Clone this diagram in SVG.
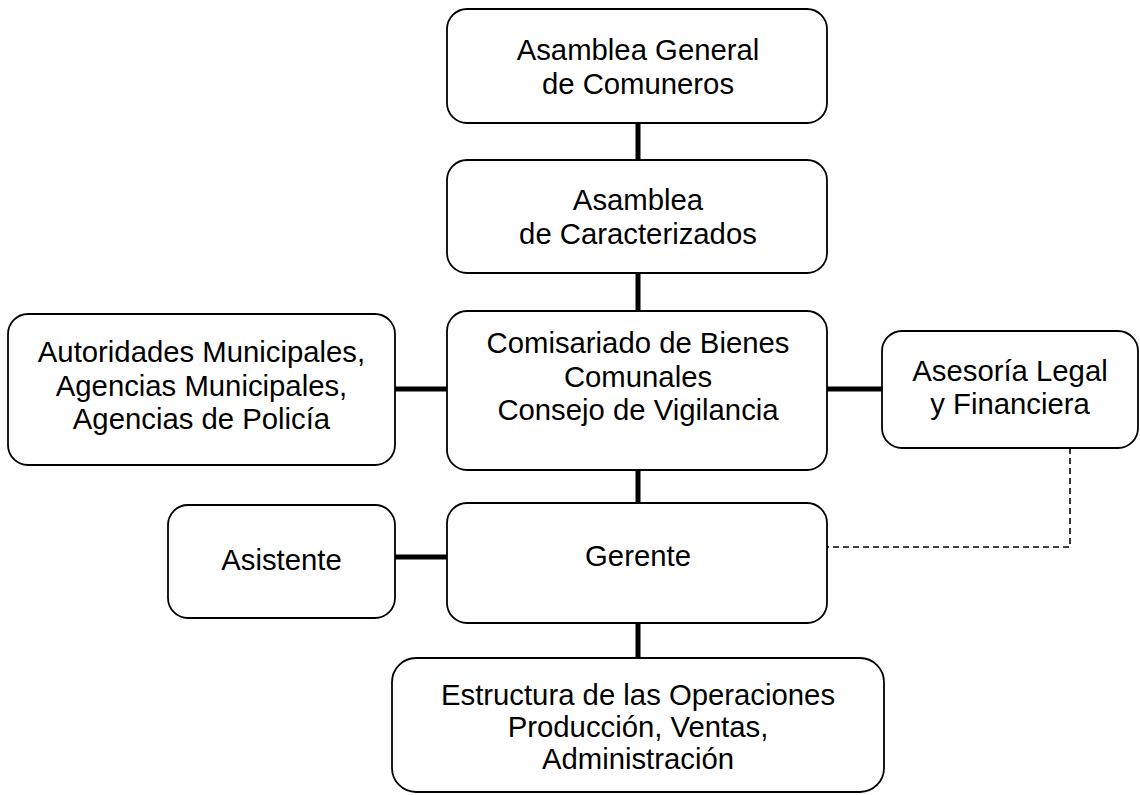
<svg xmlns="http://www.w3.org/2000/svg" width="1140" height="795" viewBox="0 0 1140 795">
  <style>
    .box { fill: #ffffff; stroke: #000000; stroke-width: 1.8; }
    .lbl { font-family: "Liberation Sans", Arial, sans-serif; font-size: 29.3px; fill: #000000; text-anchor: middle; }
    .solid { stroke: #000000; stroke-width: 5; fill: none; }
    .dash { stroke: #000000; stroke-width: 1.6; fill: none; stroke-dasharray: 6 4; }
  </style>
  <rect width="1140" height="795" fill="#ffffff"/>

  <!-- connectors -->
  <g id="connectors">
    <line class="solid" x1="638" y1="123" x2="638" y2="160"/>
    <line class="solid" x1="638" y1="273" x2="638" y2="311"/>
    <line class="solid" x1="638" y1="470" x2="638" y2="503"/>
    <line class="solid" x1="638" y1="623" x2="638" y2="658"/>
    <line class="solid" x1="395" y1="389" x2="447" y2="389"/>
    <line class="solid" x1="827" y1="389" x2="882" y2="389"/>
    <line class="solid" x1="395" y1="557" x2="447" y2="557"/>
    <polyline class="dash" points="1070,448 1070,547 827,547"/>
  </g>

  <g id="asamblea-general">
    <rect class="box" x="447" y="9" width="380" height="114" rx="20"/>
    <text class="lbl" x="638" y="60">Asamblea General</text>
    <text class="lbl" x="638" y="94">de Comuneros</text>
  </g>

  <g id="asamblea-caracterizados">
    <rect class="box" x="447" y="160" width="380" height="113" rx="20"/>
    <text class="lbl" x="638" y="210">Asamblea</text>
    <text class="lbl" x="638" y="244">de Caracterizados</text>
  </g>

  <g id="comisariado">
    <rect class="box" x="447" y="311" width="380" height="159" rx="20"/>
    <text class="lbl" x="638" y="353">Comisariado de Bienes</text>
    <text class="lbl" x="638" y="387">Comunales</text>
    <text class="lbl" x="638" y="420">Consejo de Vigilancia</text>
  </g>

  <g id="autoridades">
    <rect class="box" x="8" y="314" width="387" height="151" rx="20"/>
    <text class="lbl" x="201.5" y="362">Autoridades Municipales,</text>
    <text class="lbl" x="201.5" y="395.5">Agencias Municipales,</text>
    <text class="lbl" x="201.5" y="429">Agencias de Policía</text>
  </g>

  <g id="asesoria">
    <rect class="box" x="882" y="331" width="256" height="117" rx="20"/>
    <text class="lbl" x="1010" y="381">Asesoría Legal</text>
    <text class="lbl" x="1010" y="414">y Financiera</text>
  </g>

  <g id="gerente">
    <rect class="box" x="447" y="503" width="380" height="120" rx="20"/>
    <text class="lbl" x="638" y="566">Gerente</text>
  </g>

  <g id="asistente">
    <rect class="box" x="168" y="505" width="227" height="113" rx="20"/>
    <text class="lbl" x="281.5" y="570">Asistente</text>
  </g>

  <g id="operaciones">
    <rect class="box" x="392" y="658" width="492" height="134" rx="24"/>
    <text class="lbl" x="638" y="705">Estructura de las Operaciones</text>
    <text class="lbl" x="638" y="737">Producción, Ventas,</text>
    <text class="lbl" x="638" y="769">Administración</text>
  </g>
</svg>
